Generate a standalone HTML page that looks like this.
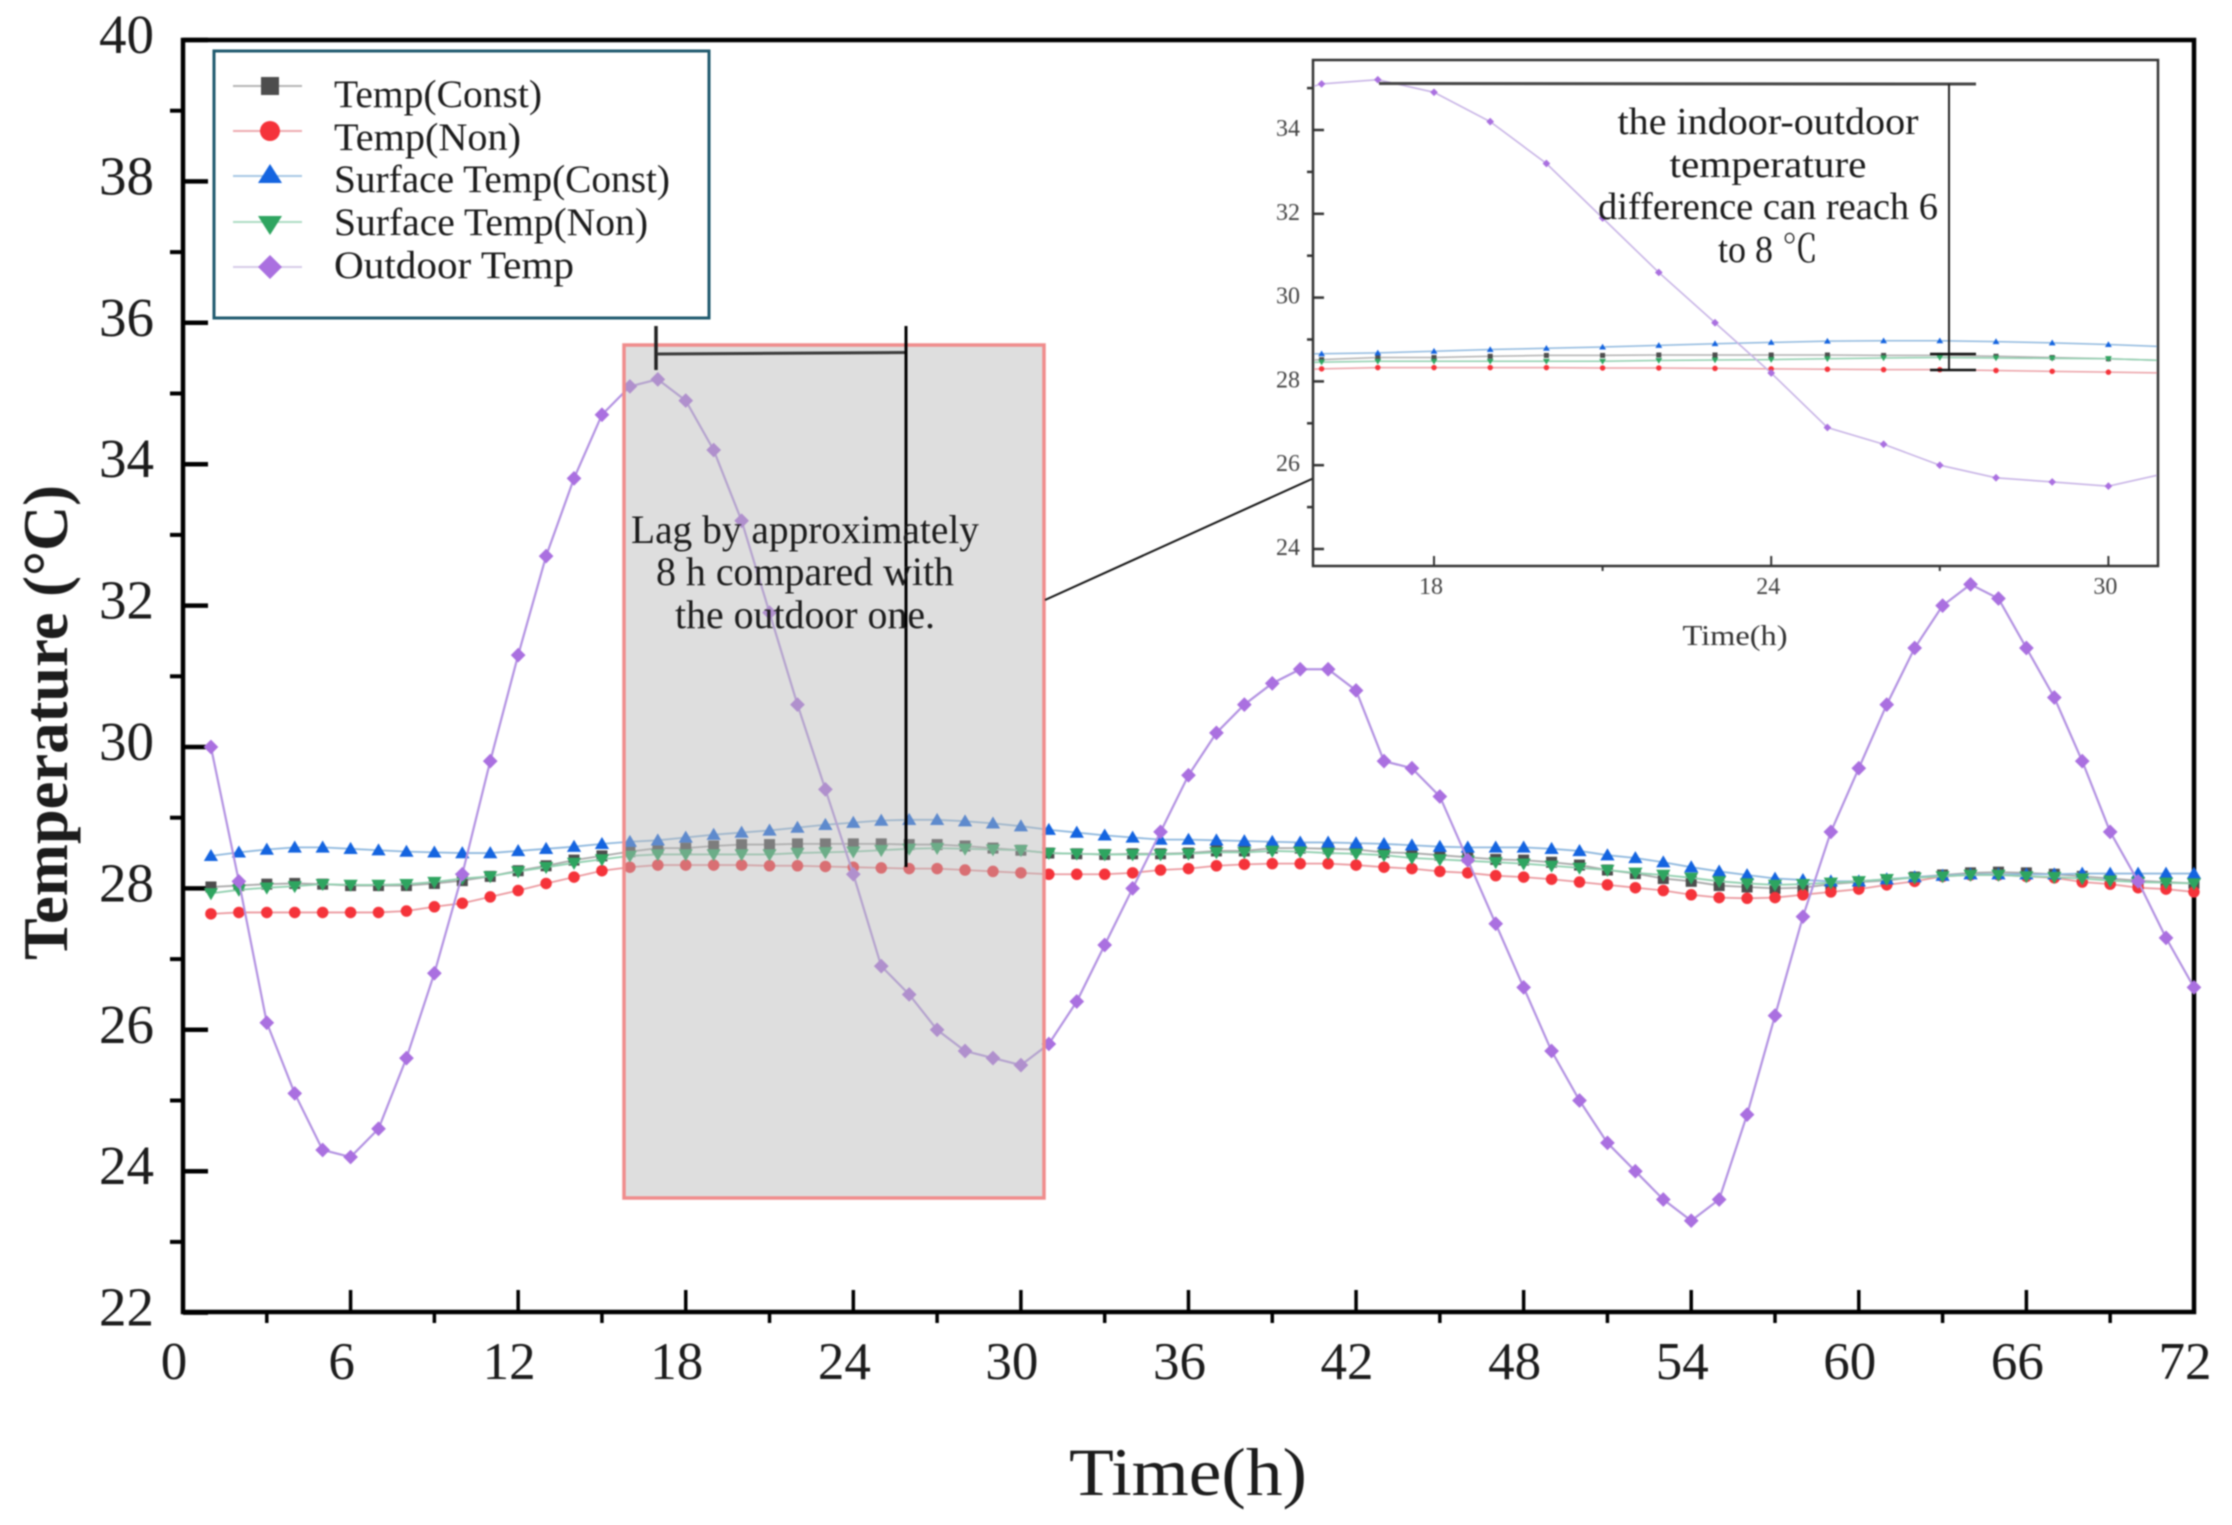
<!DOCTYPE html>
<html lang="en">
<head>
<meta charset="utf-8">
<title>Temperature over time</title>
<style>
html,body{margin:0;padding:0;background:#fff;}
svg{display:block;filter:blur(0.8px);}
text{font-family:"Liberation Serif","Noto Serif CJK SC",serif;fill:#1c1c1c;}
</style>
</head>
<body>
<svg id="chart" xmlns="http://www.w3.org/2000/svg" width="2232" height="1525" viewBox="0 0 2232 1525">
  <rect x="0" y="0" width="2232" height="1525" fill="#fff"/>
  <rect x="183" y="40" width="2011" height="1272" fill="none" stroke="#000" stroke-width="4.5"/>
  <g id="main-ticks"></g>
  <g id="main-series"></g>

  <rect x="624" y="345" width="420" height="853" fill="rgb(183,183,183)" fill-opacity="0.46" stroke="#f08c8c" stroke-width="3.5"/>

  <g stroke="#222">
    <line x1="656" y1="326" x2="656" y2="370" stroke-width="3.5"/>
    <line x1="657" y1="354" x2="906" y2="352.5" stroke-width="3" stroke="#3a3a3a"/>
    <line x1="906" y1="326" x2="906" y2="867" stroke-width="3" stroke="#000"/>
  </g>
  <g font-size="40" text-anchor="middle">
    <text x="805" y="543" textLength="348" lengthAdjust="spacingAndGlyphs">Lag by approximately</text>
    <text x="805" y="585" textLength="298" lengthAdjust="spacingAndGlyphs">8 h compared with</text>
    <text x="805" y="628" textLength="260" lengthAdjust="spacingAndGlyphs">the outdoor one.</text>
  </g>
  <line x1="1045" y1="600" x2="1314" y2="478" stroke="#111" stroke-width="2"/>

  <g>
    <rect x="214" y="51" width="495" height="267" fill="#fff" stroke="#1f5a6e" stroke-width="3"/>
    <g>
      <line x1="233" y1="86" x2="302" y2="86" stroke="#b5b5b5" stroke-width="2"/>
      <rect x="261" y="77" width="18" height="18" fill="#4d4d4d"/>
      <text x="334" y="107" font-size="39" textLength="208" lengthAdjust="spacingAndGlyphs">Temp(Const)</text>
    </g>
    <g>
      <line x1="233" y1="131" x2="302" y2="131" stroke="#eeaab0" stroke-width="2"/>
      <circle cx="270" cy="131" r="10" fill="#f5333a"/>
      <text x="334" y="150" font-size="39" textLength="187" lengthAdjust="spacingAndGlyphs">Temp(Non)</text>
    </g>
    <g>
      <line x1="233" y1="176" x2="302" y2="176" stroke="#a8c8e4" stroke-width="2"/>
      <polygon points="270,164 258,183 282,183" fill="#1464e0"/>
      <text x="334" y="192" font-size="39" textLength="336" lengthAdjust="spacingAndGlyphs">Surface Temp(Const)</text>
    </g>
    <g>
      <line x1="233" y1="222" x2="302" y2="222" stroke="#aedcc4" stroke-width="2"/>
      <polygon points="258,216 282,216 270,235" fill="#2ea560"/>
      <text x="334" y="235" font-size="39" textLength="314" lengthAdjust="spacingAndGlyphs">Surface Temp(Non)</text>
    </g>
    <g>
      <line x1="233" y1="267" x2="302" y2="267" stroke="#d6cce8" stroke-width="2"/>
      <polygon points="270,255 282,267 270,279 258,267" fill="#aa70e0"/>
      <text x="334" y="278" font-size="39" textLength="240" lengthAdjust="spacingAndGlyphs">Outdoor Temp</text>
    </g>
  </g>

  <text x="1188" y="1495" font-size="68" text-anchor="middle" textLength="238" lengthAdjust="spacingAndGlyphs">Time(h)</text>
  <text transform="translate(67,960) rotate(-90)" font-size="64" font-weight="bold" textLength="475" lengthAdjust="spacingAndGlyphs">Temperature (°C)</text>

  <defs>
    <clipPath id="inset-clip"><rect x="1314" y="61" width="843" height="504"/></clipPath>
  </defs>
  <g>
    <rect x="1313" y="60" width="845" height="506" fill="#fff" stroke="#333" stroke-width="2.5"/>
    <g id="inset-ticks"></g>
    <g id="inset-series" clip-path="url(#inset-clip)"></g>
    <g>
      <line x1="1379" y1="83.5" x2="1976" y2="84" stroke="#444" stroke-width="3"/>
      <line x1="1949" y1="84" x2="1949" y2="370" stroke="#222" stroke-width="2"/>
      <line x1="1930" y1="354" x2="1976" y2="354" stroke="#111" stroke-width="2.5"/>
      <line x1="1930" y1="370" x2="1976" y2="370" stroke="#111" stroke-width="2.5"/>
    </g>
    <g font-size="38" text-anchor="middle">
      <text x="1768" y="134" textLength="301" lengthAdjust="spacingAndGlyphs">the indoor-outdoor</text>
      <text x="1768" y="177" textLength="197" lengthAdjust="spacingAndGlyphs">temperature</text>
      <text x="1768" y="219" textLength="340" lengthAdjust="spacingAndGlyphs">difference can reach 6</text>
      <text x="1768" y="262" textLength="100" lengthAdjust="spacingAndGlyphs">to 8 ℃</text>
    </g>
    <text x="1735" y="645" font-size="29" text-anchor="middle" textLength="105" lengthAdjust="spacingAndGlyphs" style="fill:#333">Time(h)</text>
  </g>
</svg>

<script>
const hours = [1,2,3,4,5,6,7,8,9,10,11,12,13,14,15,16,17,18,19,20,21,22,23,24,25,26,27,28,29,30,31,32,33,34,35,36,37,38,39,40,41,42,43,44,45,46,47,48,49,50,51,52,53,54,55,56,57,58,59,60,61,62,63,64,65,66,67,68,69,70,71,72];
const tempConst = [28.02,28.04,28.06,28.07,28.06,28.04,28.04,28.04,28.07,28.11,28.17,28.25,28.32,28.40,28.46,28.52,28.57,28.57,28.60,28.62,28.62,28.63,28.63,28.63,28.63,28.62,28.62,28.60,28.57,28.54,28.50,28.49,28.48,28.49,28.49,28.50,28.53,28.53,28.57,28.57,28.56,28.55,28.51,28.50,28.47,28.44,28.41,28.40,28.37,28.33,28.26,28.21,28.14,28.10,28.04,28.02,28.00,28.01,28.06,28.09,28.11,28.16,28.19,28.22,28.23,28.22,28.20,28.17,28.14,28.11,28.09,28.07];
const tempNon = [27.64,27.66,27.66,27.66,27.66,27.66,27.66,27.68,27.74,27.79,27.88,27.97,28.07,28.16,28.25,28.30,28.33,28.33,28.33,28.33,28.32,28.32,28.31,28.30,28.29,28.28,28.28,28.26,28.24,28.22,28.20,28.20,28.20,28.22,28.26,28.28,28.32,28.34,28.35,28.35,28.35,28.33,28.30,28.28,28.24,28.22,28.18,28.16,28.13,28.09,28.05,28.01,27.97,27.91,27.87,27.86,27.87,27.91,27.95,27.99,28.05,28.10,28.17,28.19,28.19,28.17,28.15,28.09,28.06,28.01,27.99,27.95];
const surfaceConst = [28.46,28.51,28.55,28.58,28.58,28.56,28.54,28.52,28.51,28.50,28.50,28.53,28.56,28.59,28.63,28.66,28.68,28.72,28.76,28.79,28.82,28.86,28.90,28.93,28.96,28.97,28.97,28.95,28.92,28.88,28.83,28.79,28.75,28.72,28.69,28.69,28.68,28.67,28.66,28.65,28.65,28.64,28.63,28.61,28.59,28.58,28.58,28.58,28.56,28.53,28.47,28.43,28.37,28.30,28.24,28.19,28.14,28.12,28.10,28.10,28.13,28.16,28.18,28.20,28.20,28.20,28.20,28.21,28.21,28.21,28.21,28.21];
const surfaceNon = [27.93,27.98,28.01,28.03,28.06,28.05,28.05,28.06,28.09,28.14,28.17,28.24,28.30,28.36,28.41,28.46,28.48,28.48,28.48,28.48,28.48,28.50,28.51,28.52,28.54,28.56,28.57,28.56,28.55,28.54,28.50,28.49,28.48,28.48,28.48,28.49,28.51,28.51,28.53,28.52,28.50,28.49,28.47,28.43,28.41,28.39,28.37,28.35,28.32,28.29,28.26,28.22,28.19,28.15,28.10,28.07,28.05,28.06,28.08,28.10,28.13,28.15,28.17,28.19,28.19,28.17,28.16,28.14,28.11,28.09,28.08,28.07];
const outdoorTemp = [30.0,28.1,26.1,25.1,24.3,24.2,24.6,25.6,26.8,28.2,29.8,31.3,32.7,33.8,34.7,35.1,35.2,34.9,34.2,33.2,31.9,30.6,29.4,28.2,26.9,26.5,26.0,25.7,25.6,25.5,25.8,26.4,27.2,28.0,28.8,29.6,30.2,30.6,30.9,31.1,31.1,30.8,29.8,29.7,29.3,28.4,27.5,26.6,25.7,25.0,24.4,24.0,23.6,23.3,23.6,24.8,26.2,27.6,28.8,29.7,30.6,31.4,32.0,32.3,32.1,31.4,30.7,29.8,28.8,28.1,27.3,26.6];

const yMajorTicks = [22,24,26,28,30,32,34,36,38,40];
const yMinorTicks = [23,25,27,29,31,33,35,37,39];
const xMajorTicks = [0,6,12,18,24,30,36,42,48,54,60,66,72];
const xMinorTicks = [3,9,15,21,27,33,39,45,51,57,63,69];
const insetYMajorTicks = [24,26,28,30,32,34];
const insetYMinorTicks = [25,27,29,31,33,35];
const insetXMajorTicks = [18,24,30];
const insetXMinorTicks = [21,27];

const SVG_NS = 'http://www.w3.org/2000/svg';

function xMain(t){ return 183 + t * 27.93; }
function yMain(v){ return 40 + (40 - v) * 70.7; }
function xInset(t){ return 1434 + (t - 18) * 56.2; }
function yInset(v){ return 130 + (34 - v) * 41.9; }

function make(tag, attrs, parent){
  const el = document.createElementNS(SVG_NS, tag);
  for (const k in attrs) el.setAttribute(k, attrs[k]);
  parent.appendChild(el);
  return el;
}

function drawMarker(parent, kind, cx, cy, s, color){
  let el;
  if (kind === 'square') {
    el = make('rect', {x: cx - s/2, y: cy - s/2, width: s, height: s, fill: color}, parent);
  } else if (kind === 'circle') {
    el = make('circle', {cx: cx, cy: cy, r: s/2, fill: color}, parent);
  } else if (kind === 'up') {
    el = make('polygon', {points: [cx, cy - s*0.6, cx + s*0.62, cy + s*0.45, cx - s*0.62, cy + s*0.45].join(' '), fill: color}, parent);
  } else if (kind === 'down') {
    el = make('polygon', {points: [cx - s*0.62, cy - s*0.45, cx + s*0.62, cy - s*0.45, cx, cy + s*0.6].join(' '), fill: color}, parent);
  } else {
    el = make('polygon', {points: [cx, cy - s*0.64, cx + s*0.64, cy, cx, cy + s*0.64, cx - s*0.64, cy].join(' '), fill: color}, parent);
  }
  
  
}

function drawSeries(parent, values, name, lineColor, markerColor, kind, xf, yf, size, lineWidth){
  const g = make('g', {}, parent);
  
  
  const pts = values.map(function(v, i){ return xf(hours[i]).toFixed(2) + ',' + yf(v).toFixed(2); }).join(' ');
  const line = make('polyline', {points: pts, fill: 'none', stroke: lineColor, 'stroke-width': lineWidth}, g);
  
  
  values.forEach(function(v, i){
    drawMarker(g, kind, xf(hours[i]), yf(v), size, markerColor);
  });
}

function drawTick(parent, name, x1, y1, x2, y2, width, color){
  const el = make('line', {x1: x1, y1: y1, x2: x2, y2: y2, stroke: color, 'stroke-width': width}, parent);
  
  
}

function drawLabel(parent, name, x, y, size, anchor, color, value){
  const el = make('text', {x: x, y: y, 'font-size': size, 'text-anchor': anchor}, parent);
  el.style.fill = color;
  el.textContent = String(value);
  
  
}

const mainTicks = document.getElementById('main-ticks');
yMajorTicks.forEach(function(v){
  drawTick(mainTicks, 'y-major-tick', 183, yMain(v), 208, yMain(v), 4.5, '#000');
  drawLabel(mainTicks, 'y-tick-label', 154, yMain(v) + 13, 55, 'end', '#1c1c1c', v);
});
yMinorTicks.forEach(function(v){
  drawTick(mainTicks, 'y-minor-tick', 170, yMain(v), 183, yMain(v), 4, '#000');
});
xMajorTicks.forEach(function(t){
  drawTick(mainTicks, 'x-major-tick', xMain(t), 1312, xMain(t), 1290, 3.5, '#000');
  drawLabel(mainTicks, 'x-tick-label', xMain(t) - 9, 1379, 53, 'middle', '#1c1c1c', t);
});
xMinorTicks.forEach(function(t){
  drawTick(mainTicks, 'x-minor-tick', xMain(t), 1312, xMain(t), 1323, 3.5, '#000');
});

const mainSeries = document.getElementById('main-series');
drawSeries(mainSeries, tempConst, 'series-temp-const', '#a8a8a8', '#4d4d4d', 'square', xMain, yMain, 11, 1.8);
drawSeries(mainSeries, tempNon, 'series-temp-non', '#eb9aa0', '#f5333a', 'circle', xMain, yMain, 11.5, 1.8);
drawSeries(mainSeries, surfaceConst, 'series-surface-temp-const', '#8fb8de', '#1464e0', 'up', xMain, yMain, 11.5, 1.8);
drawSeries(mainSeries, surfaceNon, 'series-surface-temp-non', '#8fcfae', '#2ea560', 'down', xMain, yMain, 11.5, 1.8);
drawSeries(mainSeries, outdoorTemp, 'series-outdoor-temp', '#b392e2', '#aa70e0', 'diamond', xMain, yMain, 11.5, 2.2);

const insetTicks = document.getElementById('inset-ticks');
insetYMajorTicks.forEach(function(v){
  drawTick(insetTicks, 'inset-y-major-tick', 1313, yInset(v), 1324, yInset(v), 2.5, '#333');
  drawLabel(insetTicks, 'inset-y-tick-label', 1300, yInset(v) + 6, 24, 'end', '#444', v);
});
insetYMinorTicks.forEach(function(v){
  drawTick(insetTicks, 'inset-y-minor-tick', 1307, yInset(v), 1313, yInset(v), 2.5, '#333');
});
insetXMajorTicks.forEach(function(t){
  drawTick(insetTicks, 'inset-x-major-tick', xInset(t), 566, xInset(t), 556, 2, '#333');
  drawLabel(insetTicks, 'inset-x-tick-label', xInset(t) - 3, 594, 24, 'middle', '#444', t);
});
insetXMinorTicks.forEach(function(t){
  drawTick(insetTicks, 'inset-x-minor-tick', xInset(t), 566, xInset(t), 571, 2, '#333');
});

const insetSeries = document.getElementById('inset-series');
drawSeries(insetSeries, tempConst, 'inset-series-temp-const', '#b0b0b0', '#4d4d4d', 'square', xInset, yInset, 5, 1.5);
drawSeries(insetSeries, tempNon, 'inset-series-temp-non', '#eba0a6', '#f5333a', 'circle', xInset, yInset, 5.5, 1.5);
drawSeries(insetSeries, surfaceConst, 'inset-series-surface-temp-const', '#8fb8de', '#1464e0', 'up', xInset, yInset, 5.5, 1.5);
drawSeries(insetSeries, surfaceNon, 'inset-series-surface-temp-non', '#8fcfae', '#2ea560', 'down', xInset, yInset, 5.5, 1.5);
drawSeries(insetSeries, outdoorTemp, 'inset-series-outdoor-temp', '#c8b4e6', '#aa70e0', 'diamond', xInset, yInset, 6, 1.6);
</script>
</body>
</html>
